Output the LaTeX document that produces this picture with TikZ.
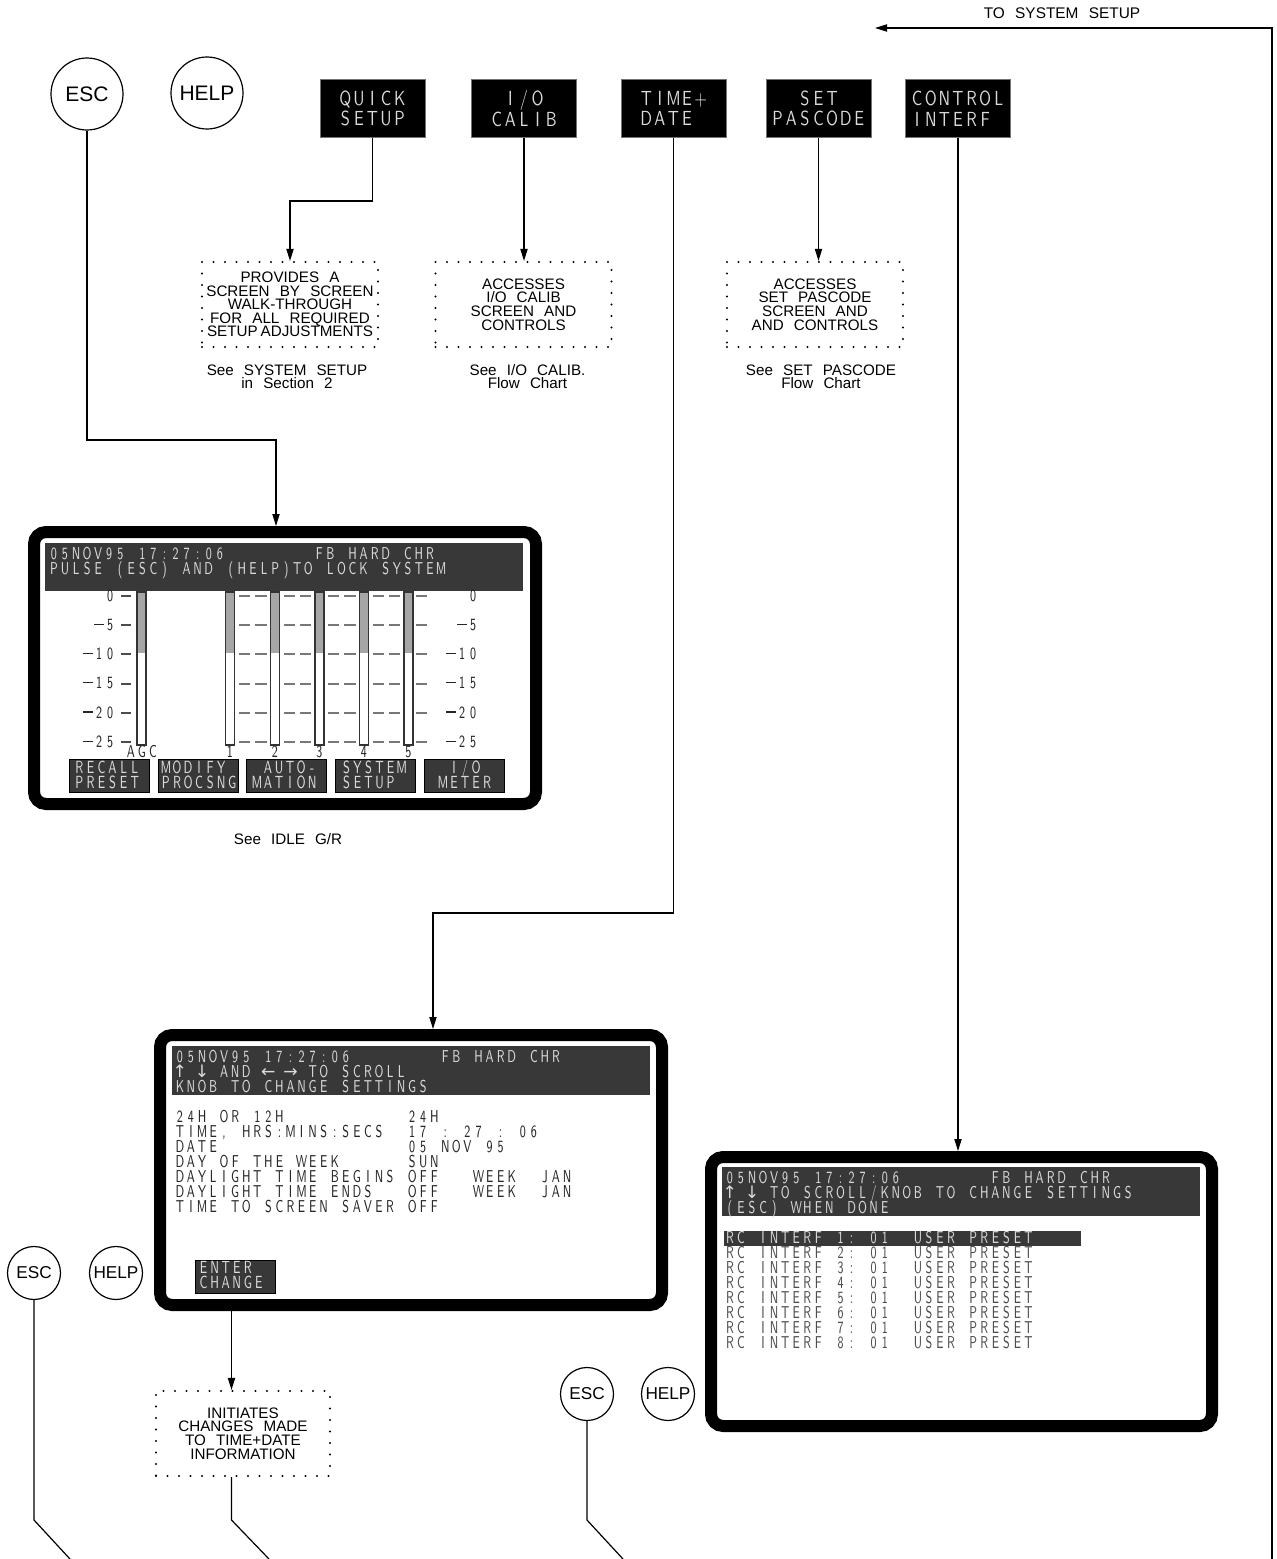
\documentclass[tikz,border=0pt]{standalone}
\usepackage{fontspec}
\setmainfont{Liberation Sans}[WordSpace=2.4]
\newfontfamily\arrowfont{DejaVu Sans}
\usepackage{graphicx}
\usetikzlibrary{arrows.meta,calc}
\definecolor{lcdbar}{HTML}{383838}
\definecolor{lcdtxt}{HTML}{DADADA}
\definecolor{meterg}{HTML}{A6A6A6}
\definecolor{dashg}{HTML}{777777}
\newcommand\lcdxs{0.68}
\newcommand\pp{5.53pt}
\ExplSyntaxOn
\dim_new:N \l_lcd_pitch_dim
\cs_new_protected:Npn \lcd_glyph:n #1
  {
    \makebox[\l_lcd_pitch_dim][c]
      {
        \str_case:nnF {#1}
          {
            {_} { }
            {↑} { {\arrowfont ↑} }
            {↓} { {\arrowfont ↓} }
            {←} { {\arrowfont ←} }
            {→} { {\arrowfont →} }
            {—} { \rule[2.8pt]{4.8pt}{0.6pt} }
          }
          { \scalebox{\lcdxs}[1]{#1} }
      }
  }
\cs_new_protected:Npn \lcd #1#2
  {
    \dim_set:Nn \l_lcd_pitch_dim {#1}
    \str_map_inline:nn {#2} { \lcd_glyph:n {##1} }
  }
\ExplSyntaxOff
\begin{document}
\begin{tikzpicture}[x=0.5pt,y=-0.5pt,
  ln/.style={line width=0.6pt},
  arr/.style={ln,-{Triangle[length=6pt,width=3.6pt]}},
  key/.style={circle,draw,line width=0.6pt,inner sep=0pt},
  topkey/.style={fill=black,draw=black!55,line width=0.4pt,minimum width=52.5pt,minimum height=29pt,inner sep=0pt,align=center,text=lcdtxt,font=\sffamily\fontsize{10.2}{10.2}\selectfont\def\lcdxs{0.8}},
  note/.style={draw,dash pattern=on 0pt off 5.75pt,line cap=round,line width=1.1pt,minimum width=88pt,minimum height=42.5pt,inner sep=0pt,align=center,font=\fontsize{7.6}{6.8}\selectfont},
  see/.style={align=center,inner sep=0pt,font=\fontsize{7.6}{6.5}\selectfont},
  screen/.style={draw=black,line width=6pt,rounded corners=6pt,fill=white,inner sep=0pt},
  lcdt/.style={anchor=base west,inner sep=0pt,font=\sffamily\fontsize{8.6}{8.6}\selectfont},
  lcdon/.style={lcdt,text=lcdtxt},
  lcdoff/.style={lcdt,text=black!85},
  softkey/.style={fill=lcdbar,draw=black,line width=0.4pt,minimum width=40pt,minimum height=16.5pt,inner sep=0pt},
  skt/.style={anchor=base west,inner sep=0pt,text=lcdtxt,font=\sffamily\fontsize{8.8}{8.8}\selectfont},
  dsh/.style={draw=dashg,line width=1pt},
  tick/.style={draw=black!70,line width=1pt},
  baredge/.style={draw=black!80,line width=0.7pt}
]
\fill[white] (0,0) rectangle (1276,1559);
\useasboundingbox (0,0) rectangle (1276,1559);

% ---------- top row ----------
\node[inner sep=0pt,font=\fontsize{7.7}{8}\selectfont] (tss) at (1062,13.5) {TO SYSTEM SETUP};
\coordinate (rbot) at (1272,1559);
\coordinate (tsstip) at (875,28);
\draw[arr] (rbot) |- (tsstip);

\node[key,minimum size=36pt,font=\fontsize{10.5}{12}\selectfont] (esc1) at (87,94) {ESC};
\node[key,minimum size=36pt,font=\fontsize{10.5}{12}\selectfont] (help1) at (207,93) {HELP};

\node[topkey] (quick) at (372.5,108.5) {\lcd{6.8pt}{QUICK}\\\lcd{6.8pt}{SETUP}};
\node[topkey] (iocal) at (524,108.5) {\lcd{6.8pt}{I/O}\\\lcd{6.8pt}{CALIB}};
\node[topkey] (timedate) at (673.5,108.5) {\lcd{6.8pt}{TIME+}\\\lcd{6.8pt}{DATE_}};
\node[topkey] (setpas) at (818.5,108.5) {\lcd{6.8pt}{SET}\\\lcd{6.8pt}{PASCODE}};
\node[topkey] (ctrl) at (958,108.5) {\lcd{6.8pt}{CONTROL}\\\lcd{6.8pt}{INTERF_}};

\node[note] (qsd) at (290,304.5) {PROVIDES A\\SCREEN BY SCREEN\\WALK-THROUGH\\FOR ALL REQUIRED\\SETUP\kern1.5pt ADJUSTMENTS};
\node[note] (iod) at (523.5,304.5) {ACCESSES\\I/O CALIB\\SCREEN AND\\CONTROLS};
\node[note] (spd) at (815,304.5) {ACCESSES\\SET PASCODE\\SCREEN AND\\AND CONTROLS};

\node[see] (see1) at (287,377) {See SYSTEM SETUP\\in Section 2};
\node[see] (see2) at (527.5,377) {See I/O CALIB.\\Flow Chart};
\node[see] (see3) at (821,377) {See SET PASCODE\\Flow Chart};

\coordinate (qbend) at (290,201);
\draw[arr] (quick.south) |- (qbend) -- (qsd.north);
\draw[arr] (iocal.south) -- (iocal.south |- iod.north);
\draw[arr] (setpas.south) -- (setpas.south |- spd.north);

% ---------- idle screen ----------
\node[screen,minimum width=251pt,minimum height=136pt] (idle) at (285,668) {};
\coordinate (escbend) at (276,440);
\draw[arr] (esc1.south) |- (escbend) -- (escbend |- idle.north);

\fill[lcdbar] (45,543) rectangle (523,591);
\node[lcdon] (ih1) at (48,559) {\lcd{\pp}{05NOV95_17:27:06________FB_HARD_CHR}};
\node[lcdon] (ih2) at (48,574) {\lcd{\pp}{PULSE_(ESC)_AND_(HELP)TO_LOCK_SYSTEM}};

\foreach \lv in {596,625.2,654.4,683.6,712.8,742} {
  \draw[tick] (121,\lv) -- (131,\lv);
  \foreach \r in {234.5,279.2,323.5,368} {
    \draw[dsh] (\r+4.5,\lv) -- (\r+15.5,\lv);
    \draw[dsh] (\r+20.5,\lv) -- (\r+32,\lv);
  }
  \draw[dsh] (416,\lv) -- (427,\lv);
}
\foreach \bx in {137,225.5,270.5,315,359.5,404} {
  \fill[white] (\bx,592) rectangle (\bx+9,745);
  \fill[meterg] (\bx,592) rectangle (\bx+9,653);
  \draw[baredge] (\bx,592) rectangle (\bx+9,745);
}
\node[lcdoff,anchor=base east] (ll0) at (116,601.3) {\lcd{\pp}{0}};
\node[lcdoff,anchor=base east] (ll1) at (116,630.5) {\lcd{\pp}{—5}};
\node[lcdoff,anchor=base east] (ll2) at (116,659.7) {\lcd{\pp}{—10}};
\node[lcdoff,anchor=base east] (ll3) at (116,688.9) {\lcd{\pp}{—15}};
\node[lcdoff,anchor=base east] (ll4) at (116,718.1) {\lcd{\pp}{—20}};
\node[lcdoff,anchor=base east] (ll5) at (116,747.3) {\lcd{\pp}{—25}};
\node[lcdoff,anchor=base east] (rl0) at (479,601.3) {\lcd{\pp}{0}};
\node[lcdoff,anchor=base east] (rl1) at (479,630.5) {\lcd{\pp}{—5}};
\node[lcdoff,anchor=base east] (rl2) at (479,659.7) {\lcd{\pp}{—10}};
\node[lcdoff,anchor=base east] (rl3) at (479,688.9) {\lcd{\pp}{—15}};
\node[lcdoff,anchor=base east] (rl4) at (479,718.1) {\lcd{\pp}{—20}};
\node[lcdoff,anchor=base east] (rl5) at (479,747.3) {\lcd{\pp}{—25}};
\node[lcdoff,anchor=base] (bagc) at (142,757) {\lcd{\pp}{AGC}};
\node[lcdoff,anchor=base] (b1) at (230,757) {\lcd{\pp}{1}};
\node[lcdoff,anchor=base] (b2) at (275,757) {\lcd{\pp}{2}};
\node[lcdoff,anchor=base] (b3) at (319.5,757) {\lcd{\pp}{3}};
\node[lcdoff,anchor=base] (b4) at (364,757) {\lcd{\pp}{4}};
\node[lcdoff,anchor=base] (b5) at (408.5,757) {\lcd{\pp}{5}};

\node[softkey] (sk1) at (109,775.5) {};
\node[softkey] (sk2) at (198,775.5) {};
\node[softkey] (sk3) at (286,775.5) {};
\node[softkey] (sk4) at (375,775.5) {};
\node[softkey] (sk5) at (464,775.5) {};
\node[skt] (sk1a) at (73.5,773) {\lcd{\pp}{RECALL}};
\node[skt] (sk1b) at (73.5,788) {\lcd{\pp}{PRESET}};
\node[skt] (sk2a) at (160,773) {\lcd{\pp}{MODIFY}};
\node[skt] (sk2b) at (160,788) {\lcd{\pp}{PROCSNG}};
\node[skt] (sk3a) at (251,773) {\lcd{\pp}{_AUTO-}};
\node[skt] (sk3b) at (251,788) {\lcd{\pp}{MATION}};
\node[skt] (sk4a) at (340.5,773) {\lcd{\pp}{SYSTEM}};
\node[skt] (sk4b) at (340.5,788) {\lcd{\pp}{SETUP}};
\node[skt] (sk5a) at (437,773) {\lcd{\pp}{_I/O}};
\node[skt] (sk5b) at (437,788) {\lcd{\pp}{METER}};

\node[see] (see4) at (288,839) {See IDLE G/R};

% ---------- time + date screen ----------
\node[screen,minimum width=251pt,minimum height=135pt] (tds) at (411,1170) {};
\coordinate (tdbend) at (433,913);
\draw[arr] (timedate.south) |- (tdbend) -- (tdbend |- tds.north);

\fill[lcdbar] (172,1046) rectangle (650,1095);
\node[lcdon] (th1) at (174,1062) {\lcd{\pp}{05NOV95_17:27:06________FB_HARD_CHR}};
\node[lcdon] (th2) at (174,1077) {\lcd{\pp}{↑_↓_AND_←_→_TO_SCROLL}};
\node[lcdon] (th3) at (174,1092) {\lcd{\pp}{KNOB_TO_CHANGE_SETTINGS}};
\node[lcdoff] (tb1) at (174,1122) {\lcd{\pp}{24H_OR_12H___________24H}};
\node[lcdoff] (tb2) at (174,1137) {\lcd{\pp}{TIME,_HRS:MINS:SECS__17_:_27_:_06}};
\node[lcdoff] (tb3) at (174,1152) {\lcd{\pp}{DATE_________________05_NOV_95}};
\node[lcdoff] (tb4) at (174,1167) {\lcd{\pp}{DAY_OF_THE_WEEK______SUN}};
\node[lcdoff] (tb5) at (174,1182) {\lcd{\pp}{DAYLIGHT_TIME_BEGINS_OFF___WEEK__JAN}};
\node[lcdoff] (tb6) at (174,1197) {\lcd{\pp}{DAYLIGHT_TIME_ENDS___OFF___WEEK__JAN}};
\node[lcdoff] (tb7) at (174,1212) {\lcd{\pp}{TIME_TO_SCREEN_SAVER_OFF}};
\node[softkey] (ecb) at (235,1276.5) {};
\node[skt] (eca) at (197.7,1273) {\lcd{\pp}{ENTER}};
\node[skt] (ecc) at (197.7,1288) {\lcd{\pp}{CHANGE}};

\node[note,minimum width=87pt] (icd) at (243,1433.5) {INITIATES\\CHANGES MADE\\TO TIME+DATE\\INFORMATION};
\coordinate (icx) at (231.5,0);
\draw[arr] (icx |- tds.south) -- (icx |- icd.north);

% ---------- control interf screen ----------
\node[screen,minimum width=250.5pt,minimum height=134.5pt] (cis) at (961.5,1291.5) {};
\draw[arr] (ctrl.south) -- (ctrl.south |- cis.north);
\fill[lcdbar] (722,1167) rectangle (1200,1216);
\node[lcdon] (ch1) at (724,1183) {\lcd{\pp}{05NOV95_17:27:06________FB_HARD_CHR}};
\node[lcdon] (ch2) at (724,1198) {\lcd{\pp}{↑_↓_TO_SCROLL/KNOB_TO_CHANGE_SETTINGS}};
\node[lcdon] (ch3) at (724,1213) {\lcd{\pp}{(ESC)_WHEN_DONE}};
\fill[lcdbar] (724,1231) rectangle (1081,1245.5);
\node[lcdon] (cr1) at (724,1243) {\lcd{\pp}{RC_INTERF_1:_01__USER_PRESET}};
\node[lcdt,text=black!70] (cr2) at (724,1258) {\lcd{\pp}{RC_INTERF_2:_01__USER_PRESET}};
\node[lcdt,text=black!70] (cr3) at (724,1273) {\lcd{\pp}{RC_INTERF_3:_01__USER_PRESET}};
\node[lcdt,text=black!70] (cr4) at (724,1288) {\lcd{\pp}{RC_INTERF_4:_01__USER_PRESET}};
\node[lcdt,text=black!70] (cr5) at (724,1303) {\lcd{\pp}{RC_INTERF_5:_01__USER_PRESET}};
\node[lcdt,text=black!70] (cr6) at (724,1318) {\lcd{\pp}{RC_INTERF_6:_01__USER_PRESET}};
\node[lcdt,text=black!70] (cr7) at (724,1333) {\lcd{\pp}{RC_INTERF_7:_01__USER_PRESET}};
\node[lcdt,text=black!70] (cr8) at (724,1348) {\lcd{\pp}{RC_INTERF_8:_01__USER_PRESET}};

% ---------- bottom keys ----------
\node[key,minimum size=26.5pt,font=\fontsize{8.6}{10}\selectfont] (esc2) at (34,1273) {ESC};
\node[key,minimum size=26.5pt,font=\fontsize{8.6}{10}\selectfont] (help2) at (116,1273) {HELP};
\node[key,minimum size=26.5pt,font=\fontsize{8.6}{10}\selectfont] (esc3) at (587,1394) {ESC};
\node[key,minimum size=26.5pt,font=\fontsize{8.6}{10}\selectfont] (help3) at (668,1394) {HELP};

\coordinate (kbend) at (0,1520);
\coordinate (end1) at (70,1559);
\coordinate (end2) at (269,1559);
\coordinate (end3) at (623,1559);
\draw[ln] (esc2.south) -- (esc2.south |- kbend) -- (end1);
\draw[ln] (icx |- icd.south) -- (icx |- kbend) -- (end2);
\draw[ln] (esc3.south) -- (esc3.south |- kbend) -- (end3);
\end{tikzpicture}
\end{document}
